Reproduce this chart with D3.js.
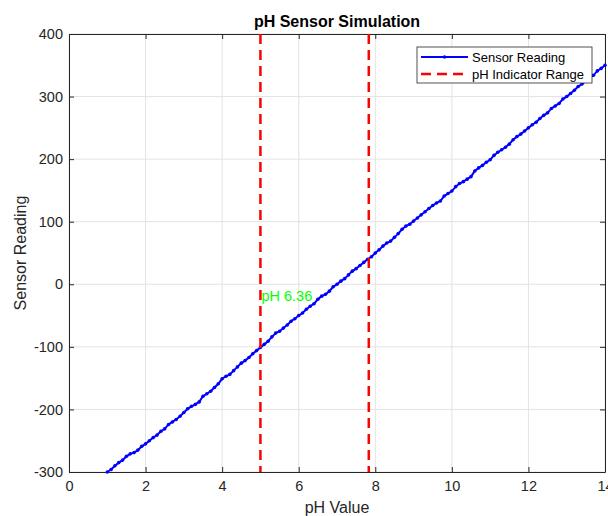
<!DOCTYPE html>
<html>
<head>
<meta charset="utf-8">
<script src="https://cdn.jsdelivr.net/npm/d3@7"></script>
<style>
  body { margin: 0; background: #fff; }
  text { font-family: "Liberation Sans", Arial, sans-serif; }
</style>
</head>
<body>
<div id="chart"></div>
<script>
/* global d3 */

// pH values (x) and simulated sensor readings (y)
var phValues = [
    1.0, 1.1, 1.2, 1.3, 1.4, 1.5, 1.6, 1.7, 1.8, 1.9,
    2.0, 2.1, 2.2, 2.3, 2.4, 2.5, 2.6, 2.7, 2.8, 2.9,
    3.0, 3.1, 3.2, 3.3, 3.4, 3.5, 3.6, 3.7, 3.8, 3.9,
    4.0, 4.1, 4.2, 4.3, 4.4, 4.5, 4.6, 4.7, 4.8, 4.9,
    5.0, 5.1, 5.2, 5.3, 5.4, 5.5, 5.6, 5.7, 5.8, 5.9,
    6.0, 6.1, 6.2, 6.3, 6.4, 6.5, 6.6, 6.7, 6.8, 6.9,
    7.0, 7.1, 7.2, 7.3, 7.4, 7.5, 7.6, 7.7, 7.8, 7.9,
    8.0, 8.1, 8.2, 8.3, 8.4, 8.5, 8.6, 8.7, 8.8, 8.9,
    9.0, 9.1, 9.2, 9.3, 9.4, 9.5, 9.6, 9.7, 9.8, 9.9,
    10.0, 10.1, 10.2, 10.3, 10.4, 10.5, 10.6, 10.7, 10.8, 10.9,
    11.0, 11.1, 11.2, 11.3, 11.4, 11.5, 11.6, 11.7, 11.8, 11.9,
    12.0, 12.1, 12.2, 12.3, 12.4, 12.5, 12.6, 12.7, 12.8, 12.9,
    13.0, 13.1, 13.2, 13.3, 13.4, 13.5, 13.6, 13.7, 13.8, 13.9,
    14.0
];
var sensorReadings = [
    -300, -296, -290, -285, -281, -275, -271, -269, -265, -259,
    -255, -250, -245, -241, -235, -231, -224, -220, -216, -211,
    -205, -199, -195, -192, -188, -179, -175, -171, -165, -159,
    -151, -147, -144, -138, -132, -126, -122, -117, -111, -106,
    -101, -96, -91, -84, -78, -75, -70, -65, -59, -55,
    -50, -46, -40, -35, -31, -24, -19, -16, -11, -4,
    0, 5, 9, 15, 21, 25, 30, 35, 40, 44,
    50, 55, 61, 66, 69, 75, 81, 88, 93, 96,
    101, 106, 111, 116, 121, 126, 130, 133, 141, 145,
    149, 156, 161, 164, 168, 172, 181, 186, 190, 195,
    199, 206, 211, 215, 219, 224, 231, 236, 240, 245,
    250, 255, 259, 265, 270, 274, 281, 285, 289, 296,
    300, 305, 310, 316, 320, 325, 330, 334, 341, 345,
    350
];
var indicatorRange = [5.0, 7.83];
var annotation = { x: 5.0, y: -18, text: "pH 6.36" };
var xTicks = [0, 2, 4, 6, 8, 10, 12, 14];
var yTicks = [-300, -200, -100, 0, 100, 200, 300, 400];
var legendLabels = ["Sensor Reading", "pH Indicator Range"];

var width = 608,
    height = 516,
    margin = { top: 34, right: 3, bottom: 44, left: 69 },
    innerWidth = width - margin.left - margin.right,
    innerHeight = height - margin.top - margin.bottom;

var axisColor = "#262626",
    gridColor = "#e3e3e3";

// plain hyphen for negatives, like the original
var fmt = function(d) { return String(d); };

var svg = d3.select("#chart").append("svg")
    .attr("width", width)
    .attr("height", height);

var g = svg.append("g")
    .attr("transform", "translate(" + margin.left + "," + margin.top + ")");

var xScale = d3.scaleLinear().domain([0, 14]).range([0, innerWidth]);
var yScale = d3.scaleLinear().domain([-300, 400]).range([innerHeight, 0]);

// grid
g.append("g").selectAll("line").data(xTicks).enter().append("line")
    .attr("x1", function(d) { return xScale(d); })
    .attr("x2", function(d) { return xScale(d); })
    .attr("y1", 0).attr("y2", innerHeight)
    .attr("stroke", gridColor).attr("stroke-width", 1);
g.append("g").selectAll("line").data(yTicks).enter().append("line")
    .attr("y1", function(d) { return yScale(d); })
    .attr("y2", function(d) { return yScale(d); })
    .attr("x1", 0).attr("x2", innerWidth)
    .attr("stroke", gridColor).attr("stroke-width", 1);

// axes (ticks point inward)
var xAxis = g.append("g")
    .attr("transform", "translate(0," + innerHeight + ")")
    .call(d3.axisBottom(xScale).tickValues(xTicks).tickFormat(fmt).tickSizeInner(-5).tickSizeOuter(0).tickPadding(9));
var yAxis = g.append("g")
    .call(d3.axisLeft(yScale).tickValues(yTicks).tickFormat(fmt).tickSizeInner(-5).tickSizeOuter(0).tickPadding(6));
var xTop = g.append("g")
    .call(d3.axisTop(xScale).tickValues(xTicks).tickSizeInner(-5).tickSizeOuter(0));
var yRight = g.append("g")
    .attr("transform", "translate(" + innerWidth + ",0)")
    .call(d3.axisRight(yScale).tickValues(yTicks).tickSizeInner(-5).tickSizeOuter(0));
xTop.selectAll(".tick text").remove();
yRight.selectAll(".tick text").remove();

[xAxis, yAxis, xTop, yRight].forEach(function(a) {
    a.select(".domain").attr("stroke", axisColor);
    a.selectAll(".tick line").attr("stroke", axisColor);
    a.selectAll(".tick text")
        .attr("fill", axisColor)
        .style("font-size", "14.5px");
});

// data line
var line = d3.line()
    .x(function(d, i) { return xScale(phValues[i]); })
    .y(function(d) { return yScale(d); });

g.append("path")
    .datum(sensorReadings)
    .attr("fill", "none")
    .attr("stroke", "#0000ff")
    .attr("stroke-width", 2)
    .attr("d", line);

g.append("g").selectAll("circle").data(sensorReadings).enter().append("circle")
    .attr("cx", function(d, i) { return xScale(phValues[i]); })
    .attr("cy", function(d) { return yScale(d); })
    .attr("r", 1.8)
    .attr("fill", "#0000ff");

// indicator range lines
g.append("g").selectAll("line").data(indicatorRange).enter().append("line")
    .attr("x1", function(d) { return xScale(d); })
    .attr("x2", function(d) { return xScale(d); })
    .attr("y1", 0).attr("y2", innerHeight)
    .attr("stroke", "#ff0000")
    .attr("stroke-width", 2.5)
    .attr("stroke-dasharray", "10,6");

// annotation
g.append("text")
    .attr("x", xScale(annotation.x) + 1)
    .attr("y", yScale(annotation.y))
    .attr("dy", "0.35em")
    .attr("fill", "#00ff00")
    .style("font-size", "14.5px")
    .text(annotation.text);

// title
svg.append("text")
    .attr("x", margin.left + innerWidth / 2)
    .attr("y", 27)
    .attr("text-anchor", "middle")
    .attr("fill", "#000")
    .style("font-size", "16px")
    .style("font-weight", "bold")
    .text("pH Sensor Simulation");

// axis labels
svg.append("text")
    .attr("x", margin.left + innerWidth / 2)
    .attr("y", 513)
    .attr("text-anchor", "middle")
    .attr("fill", axisColor)
    .style("font-size", "16px")
    .text("pH Value");

svg.append("text")
    .attr("transform", "translate(26," + (margin.top + innerHeight / 2) + ") rotate(-90)")
    .attr("text-anchor", "middle")
    .attr("fill", axisColor)
    .style("font-size", "16px")
    .text("Sensor Reading");

// legend
var legend = svg.append("g").attr("transform", "translate(417,47)");
legend.append("rect")
    .attr("width", 175).attr("height", 36)
    .attr("fill", "#fff")
    .attr("stroke", "#262626")
    .attr("stroke-width", 0.8);

legend.append("line")
    .attr("x1", 4).attr("x2", 51).attr("y1", 10).attr("y2", 10)
    .attr("stroke", "#0000ff").attr("stroke-width", 2);
legend.append("circle")
    .attr("cx", 27.5).attr("cy", 10).attr("r", 1.8).attr("fill", "#0000ff");
legend.append("line")
    .attr("x1", 4).attr("x2", 51).attr("y1", 27).attr("y2", 27)
    .attr("stroke", "#ff0000").attr("stroke-width", 2.5)
    .attr("stroke-dasharray", "10,6");

legend.selectAll("text.lbl").data(legendLabels).enter().append("text")
    .attr("class", "lbl")
    .attr("x", 55)
    .attr("y", function(d, i) { return 10 + i * 17; })
    .attr("dy", "0.35em")
    .attr("fill", "#000")
    .style("font-size", "13px")
    .text(function(d) { return d; });
</script>
</body>
</html>
